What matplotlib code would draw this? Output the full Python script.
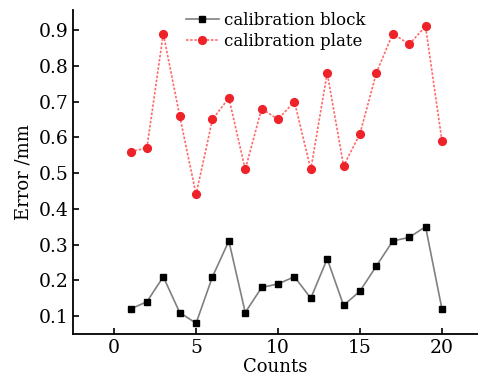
import matplotlib
matplotlib.use('Agg')
import matplotlib.pyplot as plt

plt.rcParams['font.family'] = ['DejaVu Serif']

counts = list(range(1, 21))
block = [0.12, 0.14, 0.21, 0.11, 0.08, 0.21, 0.31, 0.11, 0.18, 0.19,
         0.21, 0.15, 0.26, 0.13, 0.17, 0.24, 0.31, 0.32, 0.35, 0.12]
plate = [0.56, 0.57, 0.89, 0.66, 0.44, 0.65, 0.71, 0.51, 0.68, 0.65,
         0.70, 0.51, 0.78, 0.52, 0.61, 0.78, 0.89, 0.86, 0.91, 0.59]

fig = plt.figure(figsize=(4.78, 3.83), dpi=100)
ax = fig.add_axes([0.153, 0.128, 0.847, 0.846])

ax.plot(counts, block, color='#808080', lw=1.2, marker='s', ms=4.6,
        mfc='black', mec='black', label='calibration block')
ax.plot(counts, plate, color='#ff6b6b', lw=1.2, ls=(0, (1.5, 1.0)),
        marker='o', ms=5.6, mfc='#ee2229', mec='#ee2229',
        label='calibration plate')

ax.set_xlim(-2.5, 22.2)
ax.set_ylim(0.05, 0.956)
ax.set_xticks([0, 5, 10, 15, 20])
ax.set_yticks([0.1, 0.2, 0.3, 0.4, 0.5, 0.6, 0.7, 0.8, 0.9])
ax.tick_params(direction='in', labelsize=13.5, width=1.2, length=4)
ax.spines['top'].set_visible(False)
ax.spines['right'].set_visible(False)
ax.spines['left'].set_linewidth(1.3)
ax.spines['bottom'].set_linewidth(1.3)

ax.set_xlabel('Counts', fontsize=13, labelpad=1)
ax.set_ylabel('Error /mm', fontsize=13, labelpad=4)

ax.legend(loc='upper center', bbox_to_anchor=(0.5, 1.015), frameon=False,
          fontsize=12, handlelength=2.0, handletextpad=0.3, labelspacing=0.25,
          borderaxespad=0)

fig.savefig('out.png', dpi=100)
